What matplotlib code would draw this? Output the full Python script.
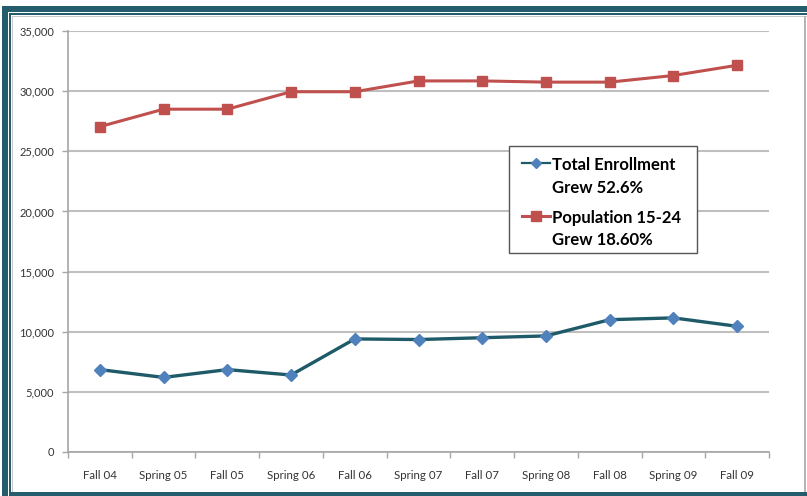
import matplotlib.pyplot as plt
from matplotlib.legend_handler import HandlerLine2D
from matplotlib.lines import Line2D
from matplotlib.patches import Rectangle
from matplotlib.ticker import FuncFormatter

plt.rcParams['font.family'] = ['Lato', 'DejaVu Sans']

terms = ['Fall 04', 'Spring 05', 'Fall 05', 'Spring 06', 'Fall 06', 'Spring 07',
         'Fall 07', 'Spring 08', 'Fall 08', 'Spring 09', 'Fall 09']
enrollment = [6850, 6200, 6850, 6400, 9400, 9350, 9500, 9650, 11000, 11150, 10450]
population = [27050, 28500, 28500, 29950, 29950, 30850, 30850, 30750, 30750, 31300, 32150]
yticks = [0, 5000, 10000, 15000, 20000, 25000, 30000, 35000]
legend_labels = ['Total Enrollment\nGrew 52.6%', 'Population 15-24\nGrew 18.60%']

W, H = 807, 496
fig = plt.figure(figsize=(W / 100, H / 100), dpi=100)
fig.patch.set_facecolor('white')

teal = '#245d6b'
# frame: thick band top/left, thin lines inside
def box(x, y, w, h, c):
    fig.patches.append(Rectangle((x / W, 1 - (y + h) / H), w / W, h / H,
                                 transform=fig.transFigure, color=c, lw=0, zorder=0))

box(2, 6, W - 2, 6, teal)
box(2, 6, 6, H - 6, teal)
box(9, 13, W - 9, 1.5, teal)
box(9, 13, 1.5, H - 13, teal)
box(12, 16, W - 12, 1.2, '#c8c8c8')
box(12, 16, 1.2, H - 16, '#c8c8c8')
box(804, 16, 2, H - 16, '#b4b4b4')
box(9, 492, W - 9, 4, teal)

ax = fig.add_axes([68 / W, 1 - 452 / H, (769 - 68) / W, (452 - 31) / H])
x = list(range(len(terms)))

ax.plot(x, population, color='#c0504d', lw=2.2, marker='s', ms=7.5,
        mfc='#c0504d', mec='#c0504d', zorder=3)
ax.plot(x, enrollment, color='#1f5a68', lw=2.4, marker='D', ms=6.5,
        mfc='#4f81bd', mec='#4f81bd', zorder=3)

ax.set_xlim(-0.5, len(terms) - 0.5)
ax.set_ylim(0, 35000)
ax.set_yticks(yticks)
ax.yaxis.set_major_formatter(FuncFormatter(lambda v, p: f'{int(v):,}'))
ax.set_xticks(x)
ax.set_xticklabels(terms)
ax.set_xticks([i - 0.5 for i in range(len(terms) + 1)], minor=True)
ax.tick_params(axis='x', which='major', length=0, pad=13, labelsize=8.3, labelcolor='#333333')
ax.tick_params(axis='x', which='minor', length=4, color='#a6a6a6', width=1)
ax.tick_params(axis='y', length=4, color='#a6a6a6', width=1, labelsize=8,
               labelcolor='#333333', pad=6)

ax.grid(axis='y', color='#bfbfbf', lw=1.5)
ax.set_axisbelow(True)
for s in ['top', 'right']:
    ax.spines[s].set_visible(False)
for s in ['left', 'bottom']:
    ax.spines[s].set_color('#a6a6a6')
    ax.spines[s].set_linewidth(1.2)


class TopLineHandler(HandlerLine2D):
    # put the legend key next to the first line of a two-line label
    def __init__(self, raise_by, **kw):
        super().__init__(**kw)
        self.raise_by = raise_by

    def create_artists(self, legend, orig_handle, xdescent, ydescent, width, height,
                       fontsize, trans):
        return super().create_artists(legend, orig_handle, xdescent,
                                      ydescent - 2 * self.raise_by, width, height,
                                      fontsize, trans)


# legend box drawn separately (wider side padding than matplotlib gives)
ax.add_patch(Rectangle((0.629, 0.4727), 0.2682, 0.2542, transform=ax.transAxes,
                       facecolor='white', edgecolor='#555555', lw=1, zorder=4))

blue_handle = Line2D([], [], color='#1f5a68', lw=1.6, marker='D', ms=5,
                     mfc='#4f81bd', mec='#4f81bd')
red_handle = Line2D([], [], color='#c0504d', lw=2.2, marker='s', ms=7,
                    mfc='#c0504d', mec='#c0504d')
hm = {blue_handle: TopLineHandler(10), red_handle: TopLineHandler(10)}
leg = ax.legend([blue_handle, red_handle], legend_labels, handler_map=hm,
                loc='upper left', bbox_to_anchor=(0.6348, 0.722),
                frameon=False, handlelength=1.65, handletextpad=0.15,
                labelspacing=0.85, borderpad=0.55, borderaxespad=0,
                prop={'weight': 'bold', 'size': 12})
leg.set_zorder(5)
for t in leg.get_texts():
    t.set_linespacing(1.5)

fig.savefig('out.png', dpi=100)
